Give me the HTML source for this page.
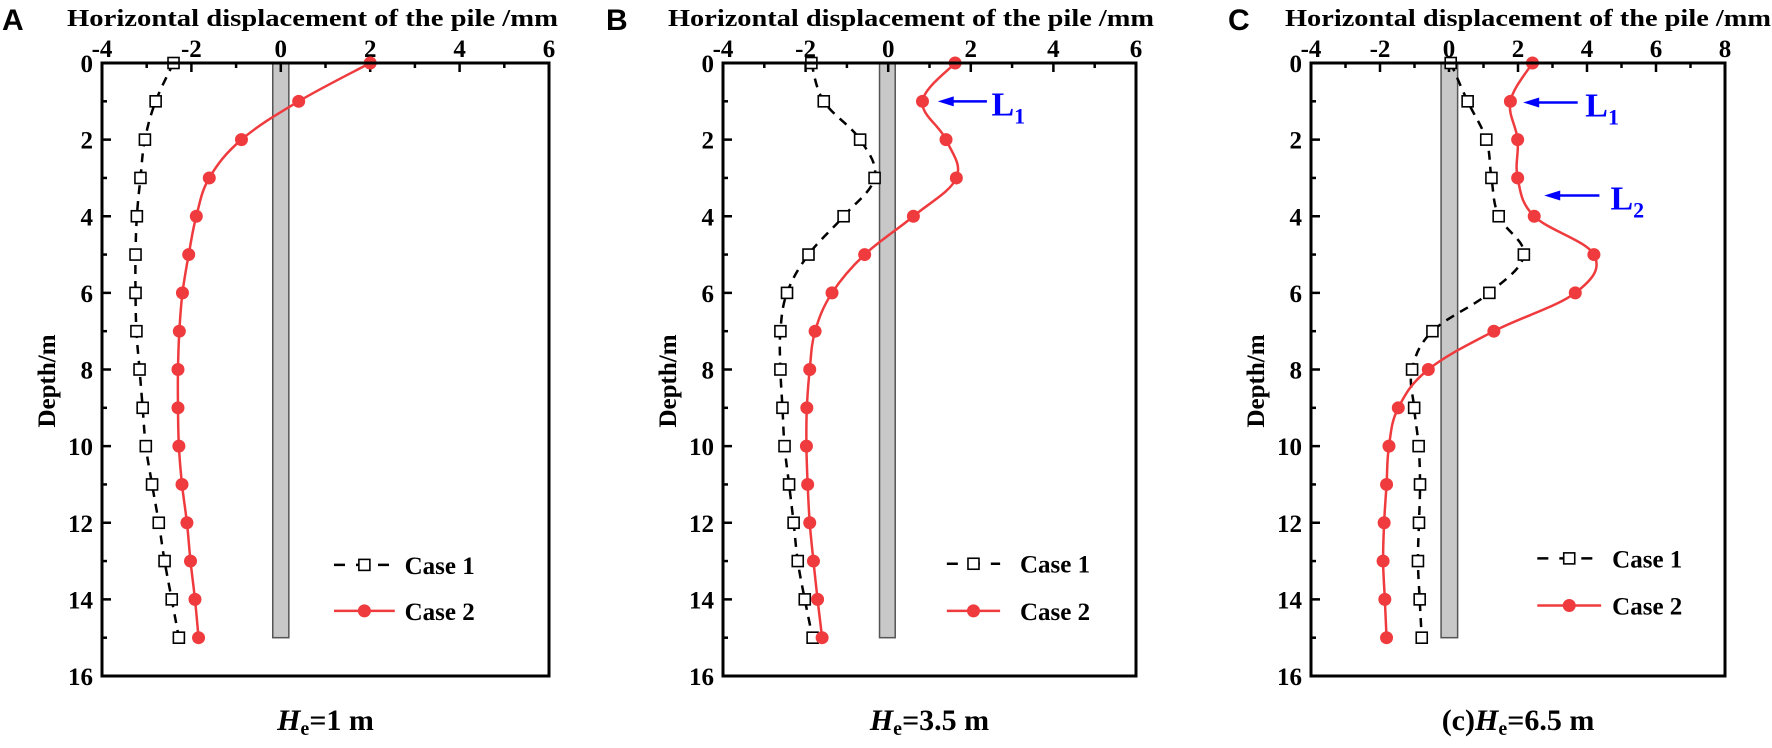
<!DOCTYPE html>
<html><head><meta charset="utf-8"><style>
html,body{margin:0;padding:0;background:#fff;}
svg text{font-family:"Liberation Serif",serif;font-weight:bold;fill:#000;}
</style></head><body>
<svg id="fig" width="1772" height="743" viewBox="0 0 1772 743" xmlns="http://www.w3.org/2000/svg"></svg>
<script>
const depths=[0,1,2,3,4,5,6,7,8,9,10,11,12,13,14,15];
const xTicksAB=[-4,-2,0,2,4,6];
const xTicksC=[-4,-2,0,2,4,6,8];
const yTicks=[0,2,4,6,8,10,12,14,16];
const caseA1=[-2.4,-2.8,-3.04,-3.14,-3.22,-3.25,-3.25,-3.23,-3.16,-3.09,-3.02,-2.88,-2.73,-2.6,-2.44,-2.28];
const caseA2=[2.0,0.4,-0.88,-1.6,-1.89,-2.06,-2.2,-2.27,-2.3,-2.3,-2.28,-2.21,-2.1,-2.02,-1.92,-1.84];
const caseB1=[-1.86,-1.56,-0.68,-0.33,-1.08,-1.93,-2.45,-2.61,-2.61,-2.56,-2.51,-2.40,-2.29,-2.19,-2.02,-1.83];
const caseB2=[1.62,0.83,1.40,1.65,0.61,-0.57,-1.36,-1.77,-1.90,-1.97,-1.98,-1.95,-1.90,-1.81,-1.71,-1.60];
const caseC1=[0.05,0.54,1.08,1.23,1.44,2.17,1.17,-0.48,-1.07,-1.01,-0.88,-0.84,-0.87,-0.90,-0.85,-0.79];
const caseC2=[2.42,1.78,1.99,1.99,2.47,4.20,3.66,1.30,-0.60,-1.47,-1.74,-1.81,-1.88,-1.91,-1.86,-1.81];

const NS="http://www.w3.org/2000/svg";
const svg=document.getElementById('fig');
function mk(tag,attrs,parent,txt){const e=document.createElementNS(NS,tag);for(const k in attrs)e.setAttribute(k,attrs[k]);if(txt!==undefined)e.textContent=txt;(parent||svg).appendChild(e);return e;}
function smooth(pts){let d='M'+pts[0][0]+','+pts[0][1];for(let i=0;i<pts.length-1;i++){const p0=pts[i-1]||pts[i],p1=pts[i],p2=pts[i+1],p3=pts[i+2]||p2;const t=0.18;d+=' C'+(p1[0]+(p2[0]-p0[0])*t)+','+(p1[1]+(p2[1]-p0[1])*t)+' '+(p2[0]-(p3[0]-p1[0])*t)+','+(p2[1]-(p3[1]-p1[1])*t)+' '+p2[0]+','+p2[1];}return d;}

function panel(cfg){
  const g=mk('g',{});
  
  
  const L=cfg.left,R=cfg.right,T=63,B=676;
  const xs=v=>L+(v-cfg.xmin)/(cfg.xmax-cfg.xmin)*(R-L);
  const ys=d=>T+d/16*(B-T);
  const lt=mk('text',{x:cfg.letterX,y:30,'font-size':30,style:'font-family:"Liberation Sans",sans-serif;font-weight:bold'},g,cfg.letter);
  
  const tt=mk('text',{x:(cfg.tx0+cfg.tx1)/2,y:26,'font-size':24,'text-anchor':'middle',textLength:cfg.tx1-cfg.tx0,lengthAdjust:'spacingAndGlyphs'},g,'Horizontal displacement of the pile /mm');
  
  // pile
  const pile=mk('rect',{x:xs(cfg.pile[0]),y:T,width:xs(cfg.pile[1])-xs(cfg.pile[0]),height:ys(15)-T,fill:'#c8c8c8',stroke:'#555','stroke-width':1.5},g);
  
  // ticks x
  const xt=cfg.xt;
  for(let v=cfg.xmin;v<=cfg.xmax;v+=1){
    const major=(v%2===0);
    mk('line',{x1:xs(v),x2:xs(v),y1:T,y2:T+(major?9:5),stroke:'#000','stroke-width':2.5},g);
  }
  xt.forEach(v=>{const t=mk('text',{x:xs(v),y:57,'font-size':25,'text-anchor':'middle'},g,v<0?'-'+Math.abs(v):String(v));});
  for(let d=0;d<=16;d++){mk('line',{x1:L,x2:L+(d%2===0?9:5),y1:ys(d),y2:ys(d),stroke:'#000','stroke-width':2.5},g);}
  yTicks.forEach(d=>{const t=mk('text',{x:L-9,y:ys(d)+9,'font-size':25,'text-anchor':'end'},g,String(d));});
  const yl=mk('text',{x:0,y:0,'font-size':25,'text-anchor':'middle',transform:'translate('+(L-47)+','+ys(8.3)+') rotate(-90)'},g,'Depth/m');
  
  // series 1
  const p1=depths.map((d,i)=>[xs(cfg.s1[i]),ys(d)]);
  const l1=mk('path',{d:smooth(p1),fill:'none',stroke:'#000','stroke-width':2.5,'stroke-dasharray':'9,7'},g);
  
  p1.forEach(p=>{const r=mk('rect',{x:p[0]-5.5,y:p[1]-5.5,width:11,height:11,fill:'#fff',stroke:'#000','stroke-width':1.6},g);});
  const p2=depths.map((d,i)=>[xs(cfg.s2[i]),ys(d)]);
  const l2=mk('path',{d:smooth(p2),fill:'none',stroke:'#ef3b3e','stroke-width':2.5},g);
  
  p2.forEach(p=>{const c=mk('circle',{cx:p[0],cy:p[1],r:6.5,fill:'#ef3b3e'},g);});
  // frame
  const fr=mk('rect',{x:L,y:T,width:R-L,height:B-T,fill:'none',stroke:'#000','stroke-width':3},g);
  
  // legend
  const lg=mk('g',{},g);
  const a=xs(cfg.leg[0]),b=xs(cfg.leg[1]),tx=xs(cfg.leg[2]),y1=ys(cfg.leg[3]),y2=ys(cfg.leg[4]);
  mk('line',{x1:a,x2:b,y1:y1,y2:y1,stroke:'#000','stroke-width':2.5,'stroke-dasharray':'11,11'},lg);
  mk('rect',{x:(a+b)/2-5.5,y:y1-5.5,width:11,height:11,fill:'#fff',stroke:'#000','stroke-width':1.6},lg);
  mk('text',{x:tx,y:y1+9,'font-size':25},lg,'Case 1');
  mk('line',{x1:a,x2:b,y1:y2,y2:y2,stroke:'#ef3b3e','stroke-width':2.5},lg);
  mk('circle',{cx:(a+b)/2,cy:y2,r:6.5,fill:'#ef3b3e'},lg);
  mk('text',{x:tx,y:y2+9,'font-size':25},lg,'Case 2');
  // annotations
  (cfg.ann||[]).forEach(an=>{
    const ag=mk('g',{},g);
    const x0=xs(an.from),x1=xs(an.to),yy=ys(an.d);
    mk('line',{x1:x0,x2:x1+12,y1:yy,y2:yy,stroke:'#0000ff','stroke-width':2.5},ag);
    mk('path',{d:'M'+x1+','+yy+' L'+(x1+16)+','+(yy-5)+' L'+(x1+16)+','+(yy+5)+' Z',fill:'#0000ff'},ag);
    const t=mk('text',{x:xs(an.tx),y:yy+14,'font-size':34,style:'fill:#0000ff'},ag,'L');
    mk('tspan',{'font-size':22,dy:8,style:'fill:#0000ff'},t,an.lab);
  });
  // bottom label
  const bl=mk('text',{x:(L+R)/2,y:730,'font-size':30,'text-anchor':'middle'},g);
  
  if(cfg.pre)mk('tspan',{},bl,cfg.pre);
  mk('tspan',{'font-style':'italic'},bl,'H');
  mk('tspan',{'font-size':20,dy:5},bl,'e');
  mk('tspan',{dy:-5},bl,'='+cfg.he+' m');
}
panel({id:'panel-a',letter:'A',letterX:2,left:102,right:549,xmin:-4,xmax:6,xt:xTicksAB,tx0:67,tx1:558,pile:[-0.18,0.18],s1:caseA1,s2:caseA2,leg:[1.19,2.55,2.77,13.1,14.3],he:'1'});
panel({id:'panel-b',letter:'B',letterX:606,left:723,right:1136,xmin:-4,xmax:6,xt:xTicksAB,tx0:668,tx1:1154,pile:[-0.21,0.17],s1:caseB1,s2:caseB2,leg:[1.42,2.71,3.19,13.07,14.3],he:'3.5',
  ann:[{from:2.39,to:1.2,d:1.0,tx:2.5,lab:'1'}]});
panel({id:'panel-c',letter:'C',letterX:1228,left:1311,right:1725,xmin:-4,xmax:8,xt:xTicksC,tx0:1285,tx1:1771,pile:[-0.23,0.25],s1:caseC1,s2:caseC2,leg:[2.56,4.41,4.73,12.93,14.16],he:'6.5',pre:'(c)',
  ann:[{from:3.73,to:2.15,d:1.03,tx:3.95,lab:'1'},{from:4.36,to:2.76,d:3.46,tx:4.68,lab:'2'}]});
</script>
</body></html>
